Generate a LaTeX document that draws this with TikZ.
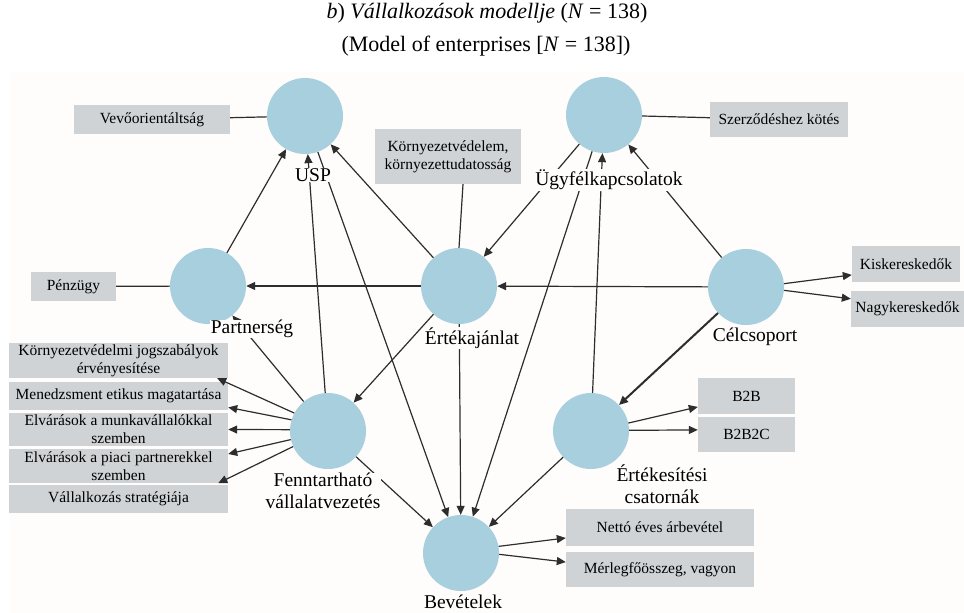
\documentclass[tikz,border=0pt]{standalone}
\usepackage{fontspec}
\setmainfont{Liberation Serif}
\usetikzlibrary{arrows.meta, calc, positioning}
\definecolor{korkek}{RGB}{168,207,222}
\definecolor{dobozszurke}{RGB}{208,211,214}
\definecolor{vonalszin}{RGB}{45,45,45}
\definecolor{hatter}{RGB}{254,253,252}

\begin{document}
\begin{tikzpicture}[x=1pt, y=-1pt,
    kor/.style={circle, fill=korkek, minimum size=76pt, inner sep=0pt},
    cimke/.style={font=\fontsize{19.5}{22}\selectfont, fill=hatter, inner sep=0.5pt, align=center},
    doboz/.style={fill=dobozszurke, font=\fontsize{15.5}{18}\selectfont, align=center, inner sep=0pt},
    nyil/.style={draw=vonalszin, line width=1.2pt, -{Triangle[length=9pt,width=8pt]}},
    vonalka/.style={draw=vonalszin, line width=1.2pt}]

            \useasboundingbox (0,0) rectangle (964,613);
            \fill[hatter] (10,72) rectangle (964,613); % háttér

            % Cím
            \node[font=\fontsize{22}{25}\selectfont] (cim1) at (487,13) {\textit{b}) \textit{Vállalkozások modellje} (\textit{N} = 138)};
            \node[font=\fontsize{22}{25}\selectfont] (cim2) at (486,46) {(Model of enterprises [\textit{N} = 138])};

            % Körök
            \node[kor] (usp) at (305,116) {};
            \node[kor] (ugy) at (604,115) {};
            \node[kor] (part) at (208,286) {};
            \node[kor] (ert) at (459,286) {};
            \node[kor] (cel) at (746,287) {};
            \node[kor] (fenn) at (328,431) {};
            \node[kor] (ertcs) at (591,431) {};
            \node[kor] (bev) at (461,553) {};

            % Dobozok
            \node[doboz, minimum width=156pt, minimum height=29pt] (vevo) at (152,119.5) {Vevőorientáltság};
            \node[doboz, minimum width=146pt, minimum height=55pt] (kornyezet) at (448,156.5) {Környezetvédelem,\\környezettudatosság};
            \node[doboz, minimum width=138pt, minimum height=35pt] (szerz) at (779,119.5) {Szerződéshez kötés};
            \node[doboz, minimum width=85pt, minimum height=29pt] (penz) at (73.5,286.5) {Pénzügy};
            \node[doboz, minimum width=108pt, minimum height=36pt] (kisker) at (906,264) {Kiskereskedők};
            \node[doboz, minimum width=113pt, minimum height=36pt] (nagyker) at (907.5,309) {Nagykereskedők};
            \node[doboz, minimum width=219pt, minimum height=35pt] (k1) at (118.5,360.5) {Környezetvédelmi jogszabályok\\érvényesítése};
            \node[doboz, minimum width=219pt, minimum height=28pt] (k2) at (118.5,396) {Menedzsment etikus magatartása};
            \node[doboz, minimum width=219pt, minimum height=33pt] (k3) at (118.5,429.5) {Elvárások a munkavállalókkal\\szemben};
            \node[doboz, minimum width=219pt, minimum height=34pt] (k4) at (118.5,466) {Elvárások a piaci partnerekkel\\szemben};
            \node[doboz, minimum width=219pt, minimum height=28pt] (k5) at (118.5,499) {Vállalkozás stratégiája};
            \node[doboz, minimum width=97pt, minimum height=36pt] (b2b) at (746.5,396) {B2B};
            \node[doboz, minimum width=97pt, minimum height=35pt] (b2b2c) at (746.5,434.5) {B2B2C};
            \node[doboz, minimum width=188pt, minimum height=37pt] (netto) at (660,527.5) {Nettó éves árbevétel};
            \node[doboz, minimum width=188pt, minimum height=35pt] (merleg) at (660,569.5) {Mérlegfőösszeg, vagyon};

            % Vonalak dobozokhoz
            \draw[vonalka] (vevo) -- (usp);
            \draw[vonalka] (ugy) -- (szerz);
            \draw[vonalka] (penz) -- (part);
            \draw[vonalka] ([xshift=15pt]kornyezet.south) -- (ert.north);

            % Nyilak a körök között
            \draw[nyil] (part) -- (usp);
            \draw[nyil] (fenn) -- (usp);
            \draw[nyil] (ert) -- (usp);
            \draw[nyil] (usp) -- (bev);
            \draw[nyil] (ert) -- (part);
            \draw[nyil] (cel) -- (ert);
            \draw[nyil] (ugy) -- (ert);
            \draw[nyil] (ugy) -- (bev);
            \draw[nyil] (ertcs) -- (ugy);
            \draw[nyil] (cel) -- (ugy);
            \draw[nyil] (ert) -- (fenn);
            \draw[nyil] (ert) -- (bev);
            \draw[nyil] (fenn) -- (part);
            \draw[nyil] (fenn) -- (bev);
            \draw[nyil, line width=2pt] (cel) -- (ertcs);
            \draw[nyil] (ertcs) -- (bev);

            % Nyilak a dobozokhoz
            \draw[nyil] (cel.5) -- ($(kisker.south west)!0.2!(kisker.north west)$);
            \draw[nyil] (cel.-5) -- ($(nagyker.north west)!0.22!(nagyker.south west)$);
            \draw[nyil] (ertcs.12) -- ($(b2b.south west)!0.2!(b2b.north west)$);
            \draw[nyil] (ertcs.1) -- ($(b2b2c.north west)!0.37!(b2b2c.south west)$);
            \draw[nyil] (bev.10) -- ($(netto.south west)!0.22!(netto.north west)$);
            \draw[nyil] (bev.-2) -- ($(merleg.north west)!0.29!(merleg.south west)$);
            \draw[nyil] (fenn.152) -- ([xshift=-11pt]k1.south east);
            \draw[nyil] (fenn.163) -- ($(k2.south east)!0.1!(k2.north east)$);
            \draw[nyil] (fenn.178) -- (k3.east);
            \draw[nyil] (fenn.193) -- ($(k4.north east)!0.15!(k4.south east)$);
            \draw[nyil] (fenn.204) -- ([xshift=-10pt]k4.south east);

            % Feliratok
            \node[cimke] (uspL) at (313,175) {USP};
            \node[cimke] (ugyL) at (609,180) {Ügyfélkapcsolatok};
            \node[cimke] (partL) at (252,329) {Partnerség};
            \node[cimke] (ertL) at (472,338) {Értékajánlat};
            \node[cimke] (celL) at (755,337) {Célcsoport};
            \node[cimke] (fennL) at (323,491) {Fenntartható\\vállalatvezetés};
            \node[cimke] (ertcsL) at (662,484) {Értékesítési\\csatornák};
            \node[cimke] (bevL) at (463,602) {Bevételek};

\end{tikzpicture}
\end{document}
